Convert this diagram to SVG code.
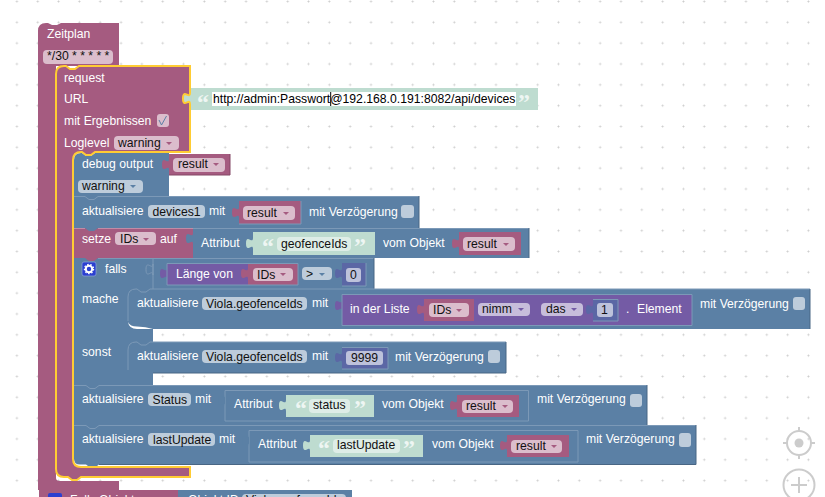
<svg xmlns="http://www.w3.org/2000/svg" width="825" height="497" viewBox="0 0 825 497">
<style>
text{font-family:"Liberation Sans",Arial,sans-serif;font-size:12.2px}
.t{fill:#fff}.d{fill:#111}
.q{fill:#fff;fill-opacity:.75;font-family:"Liberation Serif",serif;font-size:24px;font-weight:bold}
.P{fill:#a55b80}.B{fill:#5b80a5}.U{fill:#745ba5}.G{fill:#bedcd0}.N{fill:#5b67a5}
.fp{fill:#dbbdcc}.fb{fill:#bdccdb}.fu{fill:#c7bddb}.fg{fill:#deede7}.fn{fill:#bdc2db}
.ap{fill:#a55b80}.ab{fill:#5b80a5}.au{fill:#745ba5}
.li{fill:none;stroke:#7c99b7;stroke-width:1}.da{fill:none;stroke:#496684;stroke-width:1}
.lp{fill:none;stroke:#c08ca6;stroke-width:1}.dp{fill:none;stroke:#844966;stroke-width:1}
.y{fill:none;stroke:#fc3;stroke-width:2}
.ui{fill:none;stroke:#ccc;stroke-width:2}
</style>
<defs>
<pattern id="grid" patternUnits="userSpaceOnUse" x="6.5" y="-8.9" width="20.83" height="20.83"><path d="M9.4 10.4h2M10.4 9.4v2" stroke="#ccc" stroke-width="1"/></pattern>
<path id="tab" d="M0 0c0 7-7-5-7 5.500s7-1.500 7 5.500z"/>
<path id="a" d="M0 0h6l-3 3z"/>
</defs>
<rect width="825" height="497" fill="#fff"/>
<rect width="825" height="497" fill="url(#grid)"/>

<g id="zeitplan">
<path class="P" d="M38 31Q38 23 46 23H48l4 2h5l4-2H119V66H56V478Q56 481 60 481H119V490H38Z"/>
<text class="t" x="47" y="38">Zeitplan</text>
<rect class="fp" x="43" y="50" width="70" height="14" rx="4"/>
<text class="d" x="47" y="60">*/30 * * * * *</text>
</g>

<g id="request">
<path class="P" d="M56 74Q56 66 64 66H66l4 3h5l4-3H190V152H95l-4 3h-5l-4-3H81Q73 152 73 160V459Q73 467 81 467H190V477H81l-4 3h-5l-4-3H64Q56 477 56 469Z"/>
<text class="t" x="64" y="82">request</text>
<text class="t" x="64" y="103">URL</text>
<text class="t" x="64" y="125">mit Ergebnissen</text>
<rect class="fp" x="157" y="114" width="12" height="13" rx="3"/>
<path d="M159 120l2.500 5 5-9" fill="none" stroke="#5b80a5" stroke-width="1"/>
<text class="t" x="64" y="147">Loglevel</text>
<rect class="fp" x="114" y="136" width="65" height="14" rx="4"/>
<text class="d" x="118" y="147">warning</text>
<use href="#a" class="ap" x="166" y="142"/>
</g>

<g id="url-string">
<rect class="G" x="190" y="88" width="348" height="22"/>
<use href="#tab" class="G" x="190" y="93"/>
<text class="q" x="197" y="110">“</text>
<rect x="212" y="92" width="304" height="14" fill="#fff"/>
<text fill="#000" x="213" y="103">http://admin:Passwort@192.168.0.191:8082/api/devices</text>
<path d="M330.700 92V106" stroke="#000" stroke-width="1"/>
<text class="q" x="518" y="110">”</text>
</g>

<g id="debug-output">
<path class="B" d="M74 160Q74 153 81 153H82l4 3h5l4-3H169V196H74Z"/>
<text class="t" x="82" y="168">debug output</text>
<rect class="fb" x="78" y="180" width="65" height="13" rx="4"/>
<text class="d" x="82" y="190">warning</text>
<use href="#a" class="ab" x="130" y="185"/>
</g>
<g id="debug-result">
<rect class="P" x="169" y="154" width="61" height="21"/>
<use href="#tab" class="P" x="169" y="159"/>
<rect class="fp" x="173" y="158" width="52" height="14" rx="4"/>
<text class="d" x="178" y="168">result</text>
<use href="#a" class="ap" x="213" y="163"/>
<path class="dp" d="M230 154V175H169"/>
</g>

<g id="devices1">
<rect class="B" x="74" y="196" width="345" height="32"/>
<path class="li" d="M74 196.500H85l4 3h5l4-3H419"/><path class="da" d="M419 196V228"/>
<text class="t" x="82" y="215">aktualisiere</text>
<rect class="fb" x="148" y="205" width="57" height="13" rx="4"/>
<text class="d" x="152.500" y="216">devices1</text>
<text class="t" x="209" y="215">mit</text>
<rect class="P" x="239" y="201" width="62" height="23"/>
<use href="#tab" class="P" x="239" y="207"/>
<rect class="fp" x="243" y="206" width="52" height="14" rx="4"/>
<text class="d" x="247" y="217">result</text>
<use href="#a" class="ap" x="283" y="212"/>
<path class="li" d="M301 201V224H239"/>
<text class="t" x="309" y="216">mit Verzögerung</text>
<rect class="fb" x="401" y="205" width="13" height="13" rx="3"/>
</g>

<g id="setze">
<rect class="P" x="74" y="228" width="119" height="30"/>
<path class="B" d="M85 228l4 3h5l4-3Z"/>
<path class="lp" d="M74 228.500H85M98 228.500H193"/>
<text class="t" x="82" y="243">setze</text>
<rect class="fp" x="115" y="232" width="41" height="13" rx="4"/>
<text class="d" x="120" y="243">IDs</text>
<use href="#a" class="ap" x="143" y="238"/>
<text class="t" x="160" y="243">auf</text>
</g>
<g id="attribut-geofenceids">
<rect class="B" x="193" y="228" width="336" height="30"/>
<use href="#tab" class="B" x="193" y="233"/>
<path class="li" d="M193 228.500H529"/><path class="da" d="M529 228V258"/>
<text class="t" x="201" y="247">Attribut</text>
<rect class="G" x="253" y="232" width="122" height="23"/>
<use href="#tab" class="G" x="253" y="238"/>
<text class="q" x="262" y="254">“</text>
<rect class="fg" x="277" y="237" width="74" height="14" rx="4"/>
<text class="d" x="281" y="248">geofenceIds</text>
<text class="q" x="354" y="254">”</text>
<text class="t" x="383" y="247">vom Objekt</text>
<rect class="P" x="459" y="232" width="62" height="23"/>
<use href="#tab" class="P" x="459" y="238"/>
<rect class="fp" x="463" y="237" width="52" height="14" rx="4"/>
<text class="d" x="467" y="248">result</text>
<use href="#a" class="ap" x="503" y="243"/>
</g>

<g id="falls">
<path class="B" d="M74 258H374V289H153V385H74Z"/>
<path class="P" d="M85 258l4 3h5l4-3Z"/>
<path class="li" d="M98 258.500H374M153 258V289"/><path class="da" d="M374 258V289"/>
<rect x="82" y="262" width="14" height="14" rx="2" fill="#2b3fd0" stroke="#8ca6d8" stroke-width=".7"/>
<circle cx="89" cy="269" r="3.200" fill="none" stroke="#fff" stroke-width="2"/>
<circle cx="89" cy="269" r="4.600" fill="none" stroke="#fff" stroke-width="1.200" stroke-dasharray="1.600 1.600"/>
<text class="t" x="105" y="273">falls</text>
<use href="#tab" fill="none" stroke="#7c99b7" x="153" y="264"/>
<path class="U" d="M167 263H248V285H167Z"/>
<use href="#tab" class="U" x="167" y="268"/>
<text class="t" x="176" y="278">Länge von</text>
<rect class="P" x="248" y="263" width="50" height="22"/>
<use href="#tab" class="P" x="248" y="268"/>
<rect class="fp" x="253" y="268" width="40" height="13" rx="4"/>
<text class="d" x="257" y="279">IDs</text>
<use href="#a" class="ap" x="280" y="273"/>
<path class="li" d="M167 263.500H298V285H167Z"/>
<rect class="fb" x="302" y="267" width="30" height="13" rx="4"/>
<text class="d" x="306" y="278">&gt;</text>
<use href="#a" class="ab" x="319" y="273"/>
<rect class="N" x="342" y="263" width="24" height="23"/>
<use href="#tab" class="N" x="342" y="268"/>
<path class="li" d="M366 263V286H342"/>
<rect class="fn" x="346" y="268" width="15" height="14" rx="3"/>
<text class="d" x="350" y="279">0</text>
<text class="t" x="82" y="303">mache</text>
<text class="t" x="82" y="356">sonst</text>
</g>

<g id="viola-liste">
<path class="B" d="M128 297Q128 289 136 289H137l4 3h5l4-3H810V329H128Z"/>
<path class="li" d="M128 321V297Q128 289 136 289H137l4 3h5l4-3H810"/><path class="da" d="M810 289V329"/>
<path d="M128 322Q129 329 137 329H153V329Q146 326.500 137 326.500Q130 326.500 128 322Z" fill="#fff"/>
<text class="t" x="137" y="307">aktualisiere</text>
<rect class="fb" x="202" y="297" width="105" height="13" rx="4"/>
<text class="d" x="206" y="308">Viola.geofenceIds</text>
<text class="t" x="312" y="307">mit</text>
<rect class="U" x="342" y="294" width="350" height="32"/>
<use href="#tab" class="U" x="342" y="300"/>
<path class="li" d="M342 294.500H692V325.500H342Z"/>
<text class="t" x="350" y="313">in der Liste</text>
<rect class="P" x="424" y="299" width="50" height="22"/>
<use href="#tab" class="P" x="424" y="304"/>
<rect class="fp" x="429" y="303" width="40" height="14" rx="4"/>
<text class="d" x="433" y="314">IDs</text>
<use href="#a" class="ap" x="456" y="309"/>
<rect class="fu" x="478" y="303" width="52" height="13" rx="4"/>
<text class="d" x="482" y="313">nimm</text>
<use href="#a" class="au" x="518" y="308"/>
<rect class="fu" x="541" y="303" width="42" height="13" rx="4"/>
<text class="d" x="546" y="313">das</text>
<use href="#a" class="au" x="571" y="308"/>
<rect class="N" x="593" y="299" width="25" height="22"/>
<use href="#tab" class="N" x="593" y="304"/>
<path class="li" d="M593 299.500H618V321H593"/>
<rect class="fn" x="597" y="303" width="16" height="14" rx="3"/>
<text class="d" x="601" y="314">1</text>
<text class="t" x="626" y="313">.</text>
<text class="t" x="637" y="313">Element</text>
<text class="t" x="700" y="308">mit Verzögerung</text>
<rect class="fb" x="793" y="297" width="12" height="13" rx="3"/>
</g>

<g id="viola-9999">
<path class="B" d="M128 350Q128 342 136 342H137l4 3h5l4-3H506V373H128Z"/>
<path class="li" d="M128 370V350Q128 342 136 342H137l4 3h5l4-3H506"/><path class="da" d="M506 342V373H153"/>
<text class="t" x="137" y="360">aktualisiere</text>
<rect class="fb" x="202" y="350" width="105" height="13" rx="4"/>
<text class="d" x="206" y="361">Viola.geofenceIds</text>
<text class="t" x="312" y="360">mit</text>
<rect class="N" x="342" y="347" width="46" height="22"/>
<use href="#tab" class="N" x="342" y="352"/>
<path class="li" d="M342 347.500H388V369H342"/>
<rect class="fn" x="346" y="351" width="37" height="14" rx="3"/>
<text class="d" x="351" y="362">9999</text>
<text class="t" x="395" y="361">mit Verzögerung</text>
<rect class="fb" x="488" y="350" width="12" height="13" rx="3"/>
</g>

<g id="status">
<rect class="B" x="74" y="385" width="573" height="40"/>
<path class="li" d="M74 385.500H86l4 3h5l4-3H647"/><path class="da" d="M647 385V425"/>
<text class="t" x="82" y="403">aktualisiere</text>
<rect class="fb" x="148" y="393" width="43" height="13" rx="4"/>
<text class="d" x="152.500" y="404">Status</text>
<text class="t" x="195" y="403">mit</text>
<path class="li" d="M225 390.500H528.500V421H225Z"/>
<use href="#tab" class="B" x="225" y="395"/>
<text class="t" x="234" y="408">Attribut</text>
<rect class="G" x="286" y="395" width="88" height="22"/>
<use href="#tab" class="G" x="286" y="400"/>
<text class="q" x="295" y="416">“</text>
<rect class="fg" x="309" y="399" width="41" height="14" rx="4"/>
<text class="d" x="313" y="409">status</text>
<text class="q" x="354" y="416">”</text>
<text class="t" x="382" y="408">vom Objekt</text>
<rect class="P" x="457" y="395" width="62" height="22"/>
<use href="#tab" class="P" x="457" y="400"/>
<rect class="fp" x="462" y="400" width="51" height="13" rx="4"/>
<text class="d" x="466" y="410">result</text>
<use href="#a" class="ap" x="502" y="405"/>
<text class="t" x="537" y="403">mit Verzögerung</text>
<rect class="fb" x="630" y="394" width="12" height="13" rx="3"/>
</g>

<g id="lastupdate">
<path class="B" d="M74 425H696V464.500H99l-4 3h-5l-4-3H80Q74 464.500 74 459Z"/>
<path class="li" d="M74 425.500H86l4 3h5l4-3H696"/><path class="da" d="M696 425V464.500H99"/>
<text class="t" x="82" y="443">aktualisiere</text>
<rect class="fb" x="148" y="433" width="67" height="13" rx="4"/>
<text class="d" x="153" y="444">lastUpdate</text>
<text class="t" x="219" y="443">mit</text>
<path class="li" d="M249 430.500H578V462H249Z"/>
<use href="#tab" class="B" x="249" y="435"/>
<text class="t" x="258" y="448">Attribut</text>
<rect class="G" x="310" y="435" width="113" height="22"/>
<use href="#tab" class="G" x="310" y="440"/>
<text class="q" x="318" y="456">“</text>
<rect class="fg" x="333" y="439" width="67" height="14" rx="4"/>
<text class="d" x="337" y="449">lastUpdate</text>
<text class="q" x="403" y="456">”</text>
<text class="t" x="432" y="448">vom Objekt</text>
<rect class="P" x="507" y="435" width="62" height="22"/>
<use href="#tab" class="P" x="507" y="440"/>
<rect class="fp" x="511" y="440" width="51" height="13" rx="4"/>
<text class="d" x="516" y="450">result</text>
<use href="#a" class="ap" x="551" y="445"/>
<text class="t" x="586" y="443">mit Verzögerung</text>
<rect class="fb" x="679" y="433" width="12" height="14" rx="3"/>
</g>

<g id="request-outline">
<path class="y" d="M56 74Q56 66 64 66H66l4 3h5l4-3H190V93c0 7-7-5-7 5.500s7-1.500 7 5.500V152H95l-4 3h-5l-4-3H81Q73 152 73 160V459Q73 467 81 467H190V477H81l-4 3h-5l-4-3H64Q56 477 56 469Z"/>
</g>

<g id="next-block">
<rect class="P" x="39" y="490" width="139" height="7"/>
<rect class="B" x="178" y="490" width="174" height="7"/>
<rect x="48" y="493" width="14" height="8" rx="2" fill="#2b3fd0"/>
<text class="t" x="70" y="504">Falls Objekt</text>
<text class="t" x="188" y="504">Objekt ID</text>
<rect class="fb" x="242" y="494" width="104" height="8" rx="4"/>
<text class="d" x="246" y="504">Viola.geofenceIds</text>
</g>

<g id="workspace-controls">
<circle class="ui" cx="799" cy="443" r="12"/>
<circle cx="799" cy="443" r="4.500" fill="#ccc"/>
<path class="ui" d="M799 427v5M799 454v5M783 443h5M810 443h5"/>
<circle class="ui" cx="799" cy="485" r="15.500"/>
<path class="ui" d="M791 485h16M799 477v16"/>
</g>
</svg>
